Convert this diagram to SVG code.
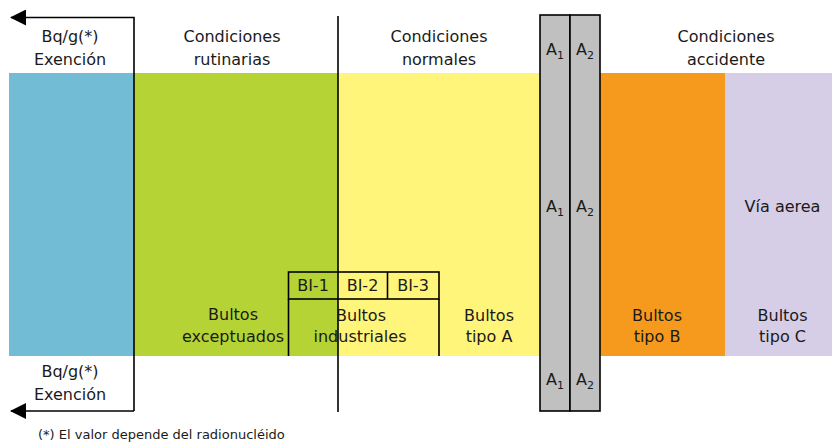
<svg xmlns="http://www.w3.org/2000/svg" width="832" height="443" viewBox="0 0 832 443">
<style>
text{font-family:"DejaVu Sans","Liberation Sans",sans-serif;font-size:16px;fill:#1a1a1a;text-anchor:middle}
.fn{font-size:13px;text-anchor:start}
.ln{stroke:#000;stroke-width:1.6;fill:none}
.box{stroke:#000;stroke-width:1.6}
.sub{font-size:11px}
</style>
<defs>
<marker id="ah" markerWidth="16" markerHeight="16" refX="15" refY="8" orient="auto" markerUnits="userSpaceOnUse">
<path d="M0,0 L16,8 L0,16 Z" fill="#000"/>
</marker>
</defs>
<rect width="832" height="443" fill="#fff"/>
<g id="bands">
<rect x="9" y="73" width="125" height="283" fill="#72bdd5"/>
<rect x="134" y="73" width="204" height="283" fill="#b5d334"/>
<rect x="338" y="73" width="202" height="283" fill="#fff57a"/>
<rect x="600" y="73" width="125" height="283" fill="#f59a1d"/>
<rect x="725" y="73" width="107" height="283" fill="#d6cde6"/>
</g>
<g id="gray-bars">
<rect class="box" x="540" y="15" width="30" height="396" fill="#c0c0c0"/>
<rect class="box" x="570" y="15" width="30" height="396" fill="#c0c0c0"/>
</g>
<g id="bi-box">
<rect class="ln" x="288.5" y="272" width="150.5" height="27"/>
<line class="ln" x1="387.5" y1="272" x2="387.5" y2="299"/>
<line class="ln" x1="288.5" y1="299" x2="288.5" y2="356"/>
<line class="ln" x1="439" y1="299" x2="439" y2="356"/>
<text x="313" y="291">BI-1</text>
<text x="362.5" y="291">BI-2</text>
<text x="413" y="291">BI-3</text>
</g>
<g id="connectors">
<path class="ln" d="M134,411 V17.5 H11" marker-end="url(#ah)"/>
<path class="ln" d="M134,411 H11" marker-end="url(#ah)"/>
<line class="ln" x1="338" y1="16" x2="338" y2="412"/>
</g>
<g id="labels-top">
<text x="70" y="42">Bq/g(*)</text>
<text x="70" y="65">Exención</text>
<text x="232" y="42">Condiciones</text>
<text x="232" y="65">rutinarias</text>
<text x="439" y="42">Condiciones</text>
<text x="439" y="65">normales</text>
<text x="726" y="42">Condiciones</text>
<text x="726" y="65">accidente</text>
</g>
<g id="a-labels">
<text x="555" y="55">A<tspan class="sub" dy="4">1</tspan></text>
<text x="585" y="55">A<tspan class="sub" dy="4">2</tspan></text>
<text x="555" y="212">A<tspan class="sub" dy="4">1</tspan></text>
<text x="585" y="212">A<tspan class="sub" dy="4">2</tspan></text>
<text x="555" y="385">A<tspan class="sub" dy="4">1</tspan></text>
<text x="585" y="385">A<tspan class="sub" dy="4">2</tspan></text>
</g>
<g id="package-labels">
<text x="233" y="320">Bultos</text>
<text x="233" y="342">exceptuados</text>
<text x="361" y="321">Bultos</text>
<text x="360" y="342">industriales</text>
<text x="489" y="321">Bultos</text>
<text x="489" y="342">tipo A</text>
<text x="657" y="321">Bultos</text>
<text x="657" y="342">tipo B</text>
<text x="782.5" y="212">Vía aerea</text>
<text x="782.5" y="321">Bultos</text>
<text x="782.5" y="342">tipo C</text>
</g>
<g id="labels-bottom">
<text x="70" y="377">Bq/g(*)</text>
<text x="70" y="400">Exención</text>
<text class="fn" x="38" y="439">(*) El valor depende del radionucléido</text>
</g>
</svg>
